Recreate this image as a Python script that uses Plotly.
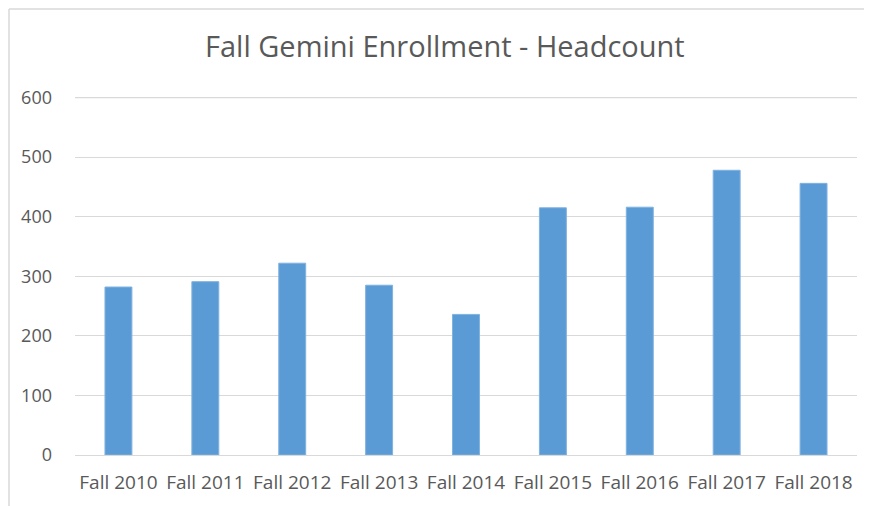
import plotly.graph_objects as go

categories = ["Fall 2010", "Fall 2011", "Fall 2012", "Fall 2013", "Fall 2014",
              "Fall 2015", "Fall 2016", "Fall 2017", "Fall 2018"]
headcount = [282, 291, 322, 285, 236, 415, 416, 478, 456]
y_ticks = [0, 100, 200, 300, 400, 500, 600]

fig = go.Figure(go.Bar(
    x=categories, y=headcount,
    marker=dict(color="#5B9BD5", line=dict(color="#7FB2E0", width=1)),
))

frame_color = "#D9D9D9"
fig.update_layout(
    width=872, height=506,
    paper_bgcolor="white", plot_bgcolor="white",
    margin=dict(l=67, r=23, t=89, b=59, autoexpand=False),
    bargap=0.69,
    showlegend=False,
    title=dict(text="Fall Gemini Enrollment - Headcount", x=0.501, xanchor="center",
               y=0.923, yanchor="middle",
               font=dict(family="Open Sans, sans-serif", size=29, color="#595959")),
    font=dict(family="Open Sans, sans-serif", size=17, color="#595959"),
    xaxis=dict(showgrid=False, ticks="", showline=True, linecolor=frame_color, linewidth=1,
               automargin=False, ticklabelstandoff=10,
               tickfont=dict(size=19, color="#595959")),
    yaxis=dict(range=[0, 601], tickvals=y_ticks, showgrid=True, gridcolor=frame_color,
               gridwidth=1.3, zeroline=False, showline=False, ticks="",
               automargin=False, ticklabelstandoff=22,
               tickfont=dict(size=18, color="#595959")),
    shapes=[
        dict(type="line", xref="paper", yref="y", x0=0, x1=1, y0=y_ticks[-1], y1=y_ticks[-1],
             line=dict(color=frame_color, width=1.3), layer="below"),
        dict(type="line", xref="paper", yref="paper", x0=-0.0844, x1=1.1, y0=1.2458, y1=1.2458,
             line=dict(color=frame_color, width=1.5)),
        dict(type="line", xref="paper", yref="paper", x0=-0.0844, x1=-0.0844, y0=-0.3, y1=1.2458,
             line=dict(color=frame_color, width=1.5)),
    ],
)

fig.write_html("out.html", config={"displayModeBar": False})
